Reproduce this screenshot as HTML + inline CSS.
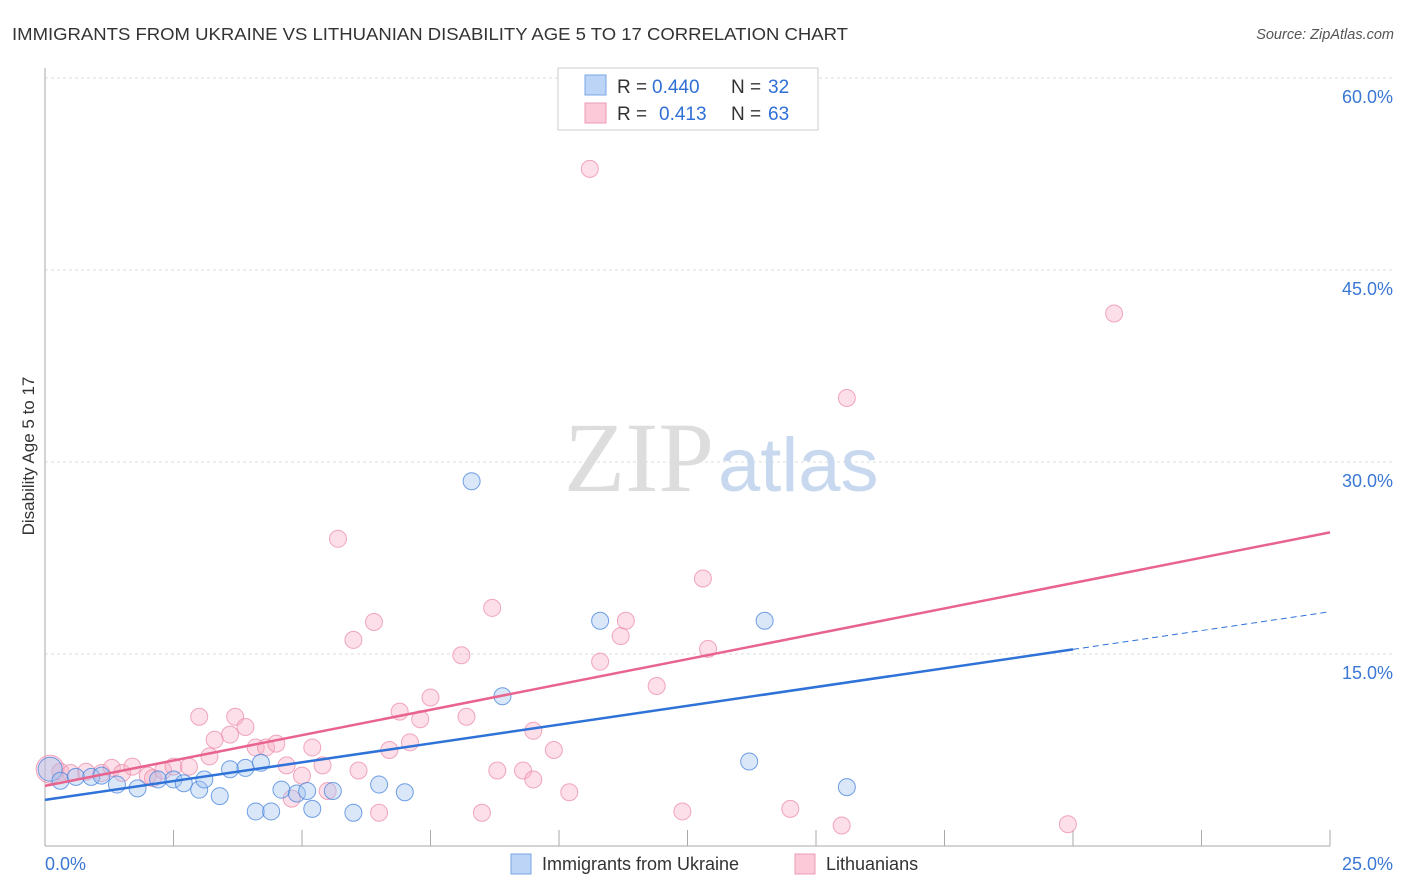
<!DOCTYPE html>
<html><head><meta charset="utf-8"><style>
body{margin:0;background:#fff;font-family:"Liberation Sans",sans-serif;}
svg{display:block}
</style></head><body>
<svg width="1406" height="892" xmlns="http://www.w3.org/2000/svg">
<text x="12" y="40" font-size="17.5" fill="#333" textLength="836" lengthAdjust="spacingAndGlyphs">IMMIGRANTS FROM UKRAINE VS LITHUANIAN DISABILITY AGE 5 TO 17 CORRELATION CHART</text>
<text x="1394" y="39" font-size="14.5" fill="#555" font-style="italic" text-anchor="end">Source: ZipAtlas.com</text>
<g id="grid"></g>
<text x="714" y="491" font-size="100" fill="#ddd" text-anchor="end" font-family="Liberation Serif,serif">ZIP</text>
<text x="718" y="491" font-size="76" fill="#c8d9ef">atlas</text>
<g id="marks"></g>
<text transform="translate(34,456) rotate(-90)" font-size="17" fill="#333" text-anchor="middle">Disability Age 5 to 17</text>
<g>
<rect x="558" y="68" width="260" height="62" fill="#fff" stroke="#ccc"/>
<rect x="585" y="75" width="21" height="20" fill="#bcd4f5" stroke="#7aa6e6"/>
<rect x="585" y="103" width="21" height="20" fill="#fbc9d8" stroke="#ee9ab4"/>
<text x="617" y="93" font-size="19" fill="#333">R =</text>
<text x="652" y="93" font-size="19" fill="#2f6fd6">0.440</text>
<text x="731" y="93" font-size="19" fill="#333">N =</text>
<text x="768" y="93" font-size="19" fill="#2f6fd6">32</text>
<text x="617" y="120" font-size="19" fill="#333">R =</text>
<text x="659" y="120" font-size="19" fill="#2f6fd6">0.413</text>
<text x="731" y="120" font-size="19" fill="#333">N =</text>
<text x="768" y="120" font-size="19" fill="#2f6fd6">63</text>
</g>
<g>
<rect x="511" y="854" width="20" height="20" fill="#bcd4f5" stroke="#7aa6e6"/>
<text x="542" y="870" font-size="18" fill="#333">Immigrants from Ukraine</text>
<rect x="795" y="854" width="20" height="20" fill="#fbc9d8" stroke="#ee9ab4"/>
<text x="826" y="870" font-size="18" fill="#333">Lithuanians</text>
</g>
</svg>
<script>
const xTicks=[0,25];
const yTicks=[15,30,45,60];
const blueX=[0.1,0.3,0.6,0.9,1.1,1.4,1.8,2.2,2.5,2.7,3.0,3.1,3.4,3.6,3.9,4.2,4.1,4.4,4.6,4.9,5.1,5.2,5.6,6.0,6.5,7.0,8.3,8.9,10.8,13.7,14.0,15.6];
const blueY=[6.0,5.1,5.4,5.4,5.5,4.8,4.5,5.2,5.2,4.9,4.4,5.2,3.9,6.0,6.1,6.5,2.7,2.7,4.4,4.1,4.3,2.9,4.3,2.6,4.8,4.2,28.5,11.7,17.6,6.6,17.6,4.6];
const pinkX=[0.1,0.3,0.5,0.8,1.1,1.3,1.5,1.7,2.0,2.1,2.3,2.5,2.8,3.0,3.2,3.3,3.6,3.7,3.9,4.1,4.3,4.5,4.7,4.8,5.0,5.2,5.4,5.5,5.7,6.0,6.1,6.4,6.5,6.7,6.9,7.1,7.3,7.5,8.1,8.2,8.5,8.7,8.8,9.3,9.5,9.5,9.9,10.2,10.6,10.8,11.2,11.3,11.9,12.4,12.8,12.9,14.5,15.5,15.6,19.9,20.8];
const pinkY=[6.0,5.8,5.7,5.8,5.7,6.1,5.7,6.2,5.5,5.3,5.9,6.2,6.2,10.1,7.0,8.3,8.7,10.1,9.3,7.7,7.7,8.0,6.3,3.7,5.5,7.7,6.3,4.3,24.0,16.1,5.9,17.5,2.6,7.5,10.5,8.1,9.9,11.6,14.9,10.1,2.6,18.6,5.9,5.9,5.2,9.0,7.5,4.2,52.9,14.4,16.4,17.6,12.5,2.7,20.9,15.4,2.9,1.6,35.0,1.7,41.6];
const pinkLine=[4.7,24.5];
const blueLine=[3.6,18.3];
const ns="http://www.w3.org/2000/svg";
const X=v=>45+v/25*1285, Y=v=>846-v/15*192;
function mk(t,a,p){const e=document.createElementNS(ns,t);for(const k in a)e.setAttribute(k,a[k]);p.appendChild(e);return e;}
const g=document.getElementById('grid'), m=document.getElementById('marks');
yTicks.forEach(t=>{const l=mk('line',{x1:45,x2:1393,y1:Y(t),y2:Y(t),stroke:'#ddd','stroke-dasharray':'3,3'},g);


const tx=mk('text',{x:1393,y:Y(t)+25,'font-size':18,fill:'#3a78d4','text-anchor':'end'},g);tx.textContent=t.toFixed(1)+'%';

});
const ax=mk('line',{x1:45,x2:45,y1:68,y2:846,stroke:'#aaa'},g);


const bx=mk('line',{x1:45,x2:1330,y1:846,y2:846,stroke:'#aaa'},g);


for(let i=1;i<=10;i++){const t=mk('line',{x1:45+i*128.5,x2:45+i*128.5,y1:830,y2:846,stroke:'#aaa'},g);

}
xTicks.forEach((t,i)=>{const tx=mk('text',{x:i?1393:45,y:870,'font-size':18,fill:'#3a78d4','text-anchor':i?'end':'start'},g);tx.textContent=t.toFixed(1)+'%';

});
pinkX.forEach((x,i)=>{const c=mk('circle',{cx:X(x),cy:Y(pinkY[i]),r:i==0?14:8.5,fill:'rgba(248,176,198,0.4)',stroke:'rgba(236,140,170,0.75)','stroke-width':1},m);

});
blueX.forEach((x,i)=>{const c=mk('circle',{cx:X(x),cy:Y(blueY[i]),r:i==0?12:8.5,fill:'rgba(160,196,240,0.4)',stroke:'rgba(70,130,220,0.75)','stroke-width':1},m);

});
const pl=mk('line',{x1:X(0),y1:Y(pinkLine[0]),x2:X(25),y2:Y(pinkLine[1]),stroke:'#e8648f','stroke-width':2.5},m);


const bEnd=20;
const bl=mk('line',{x1:X(0),y1:Y(blueLine[0]),x2:X(bEnd),y2:Y(blueLine[0]+(blueLine[1]-blueLine[0])*bEnd/25),stroke:'#2f72d8','stroke-width':2.5},m);


const bd=mk('line',{x1:X(bEnd),y1:Y(blueLine[0]+(blueLine[1]-blueLine[0])*bEnd/25),x2:X(25),y2:Y(blueLine[1]),stroke:'#2f72d8','stroke-width':1,'stroke-dasharray':'6,4'},m);


</script>
</body></html>
